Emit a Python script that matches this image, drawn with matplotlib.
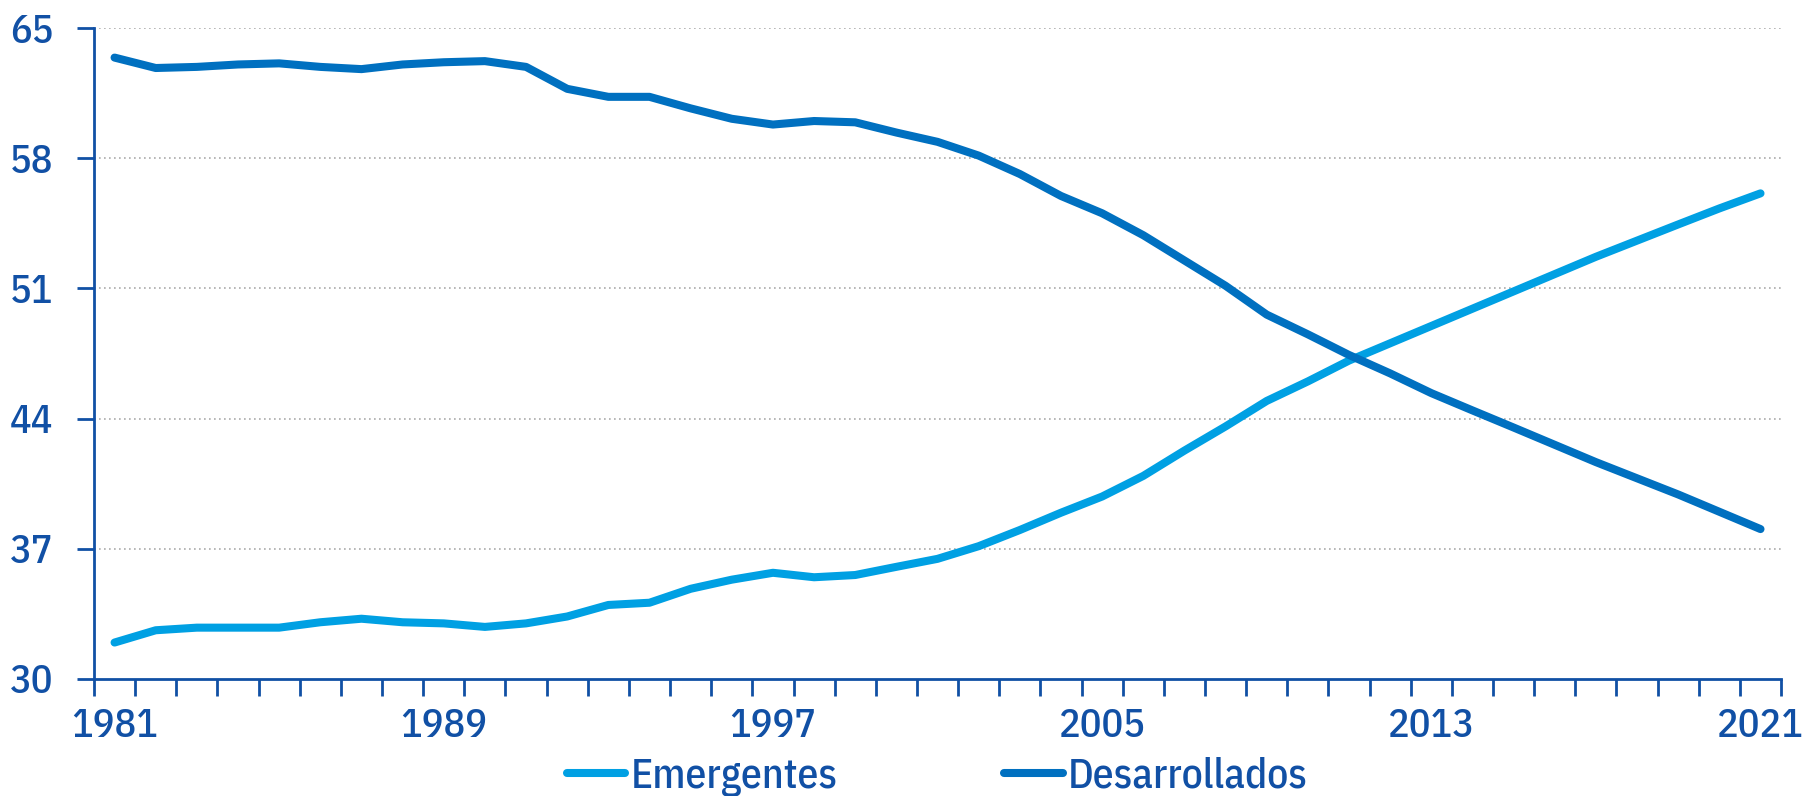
import matplotlib
matplotlib.use("Agg")
import matplotlib.pyplot as plt
import numpy as np

years = list(range(1981, 2022))
emergentes = [31.96, 32.62, 32.76, 32.76, 32.76, 33.05, 33.24, 33.05, 32.99, 32.80,
              32.99, 33.36, 33.98, 34.10, 34.85, 35.34, 35.71, 35.47, 35.59, 36.03,
              36.46, 37.14, 38.01, 38.94, 39.81, 40.92, 42.28, 43.58, 44.95, 46.00,
              47.12, 48.05, 48.98, 49.91, 50.84, 51.77, 52.70, 53.57, 54.44, 55.30,
              56.11]
desarrollados = [63.41, 62.85, 62.91, 63.04, 63.10, 62.91, 62.79, 63.04, 63.16, 63.22,
                 62.91, 61.73, 61.30, 61.30, 60.68, 60.12, 59.81, 60.00, 59.93, 59.38,
                 58.88, 58.14, 57.15, 55.97, 55.04, 53.86, 52.50, 51.14, 49.59, 48.53,
                 47.42, 46.43, 45.37, 44.44, 43.52, 42.59, 41.66, 40.79, 39.92, 38.99,
                 38.06]
y_ticks = [30, 37, 44, 51, 58, 65]
x_labels = ["1981", "1989", "1997", "2005", "2013", "2021"]

LIGHT = "#00A0E3"
DARK = "#0070C0"
NAVY = "#1150A5"

plt.rcParams["font.family"] = ["IBM Plex Sans Condensed", "DejaVu Sans"]
plt.rcParams["font.weight"] = 500

fig = plt.figure(figsize=(18.04, 7.96), dpi=100)
ax = fig.add_axes([0.0521, 0.147, 0.9352, 0.8178])

x = np.arange(len(years))
l1, = ax.plot(x, emergentes, color=LIGHT, lw=5.8, solid_capstyle="round",
              solid_joinstyle="round", label="Emergentes")
l2, = ax.plot(x, desarrollados, color=DARK, lw=5.8, solid_capstyle="round",
              solid_joinstyle="round", label="Desarrollados")

ax.set_xlim(-0.5, len(years) - 0.5)
ax.set_ylim(30, 65)

# category boundaries carry the tick marks; labels sit on every 8th year
ax.set_xticks(np.arange(-0.5, len(years), 1.0))
ax.set_xticklabels([])
label_pos = [years.index(int(s)) for s in x_labels]
ax.set_xticks(label_pos, minor=True)
ax.set_xticklabels(x_labels, minor=True)
ax.tick_params(axis="x", which="major", direction="out", length=12, width=2,
               color=NAVY)
ax.tick_params(axis="x", which="minor", length=0, pad=21, labelsize=29,
               labelcolor=NAVY)

ax.set_yticks(y_ticks)
ax.set_yticklabels([str(v) for v in y_ticks])
ax.tick_params(axis="y", direction="out", length=12, width=2, color=NAVY,
               pad=17, labelsize=29, labelcolor=NAVY)

for v in y_ticks[1:]:
    ax.axhline(v, color="#AAAAAA", lw=1.2, ls=(0, (1, 2)), zorder=0)

for side in ("top", "right"):
    ax.spines[side].set_visible(False)
for side in ("left", "bottom"):
    ax.spines[side].set_color(NAVY)
    ax.spines[side].set_linewidth(2)

leg = fig.legend(handles=[l1, l2], loc="center", bbox_to_anchor=(0.5197, 0.024),
                 ncol=2, frameon=False, fontsize=30, handlelength=1.4,
                 handletextpad=0.13, columnspacing=4.0, borderpad=0)
for t in leg.get_texts():
    t.set_color(NAVY)

fig.savefig("out.png", dpi=100)
